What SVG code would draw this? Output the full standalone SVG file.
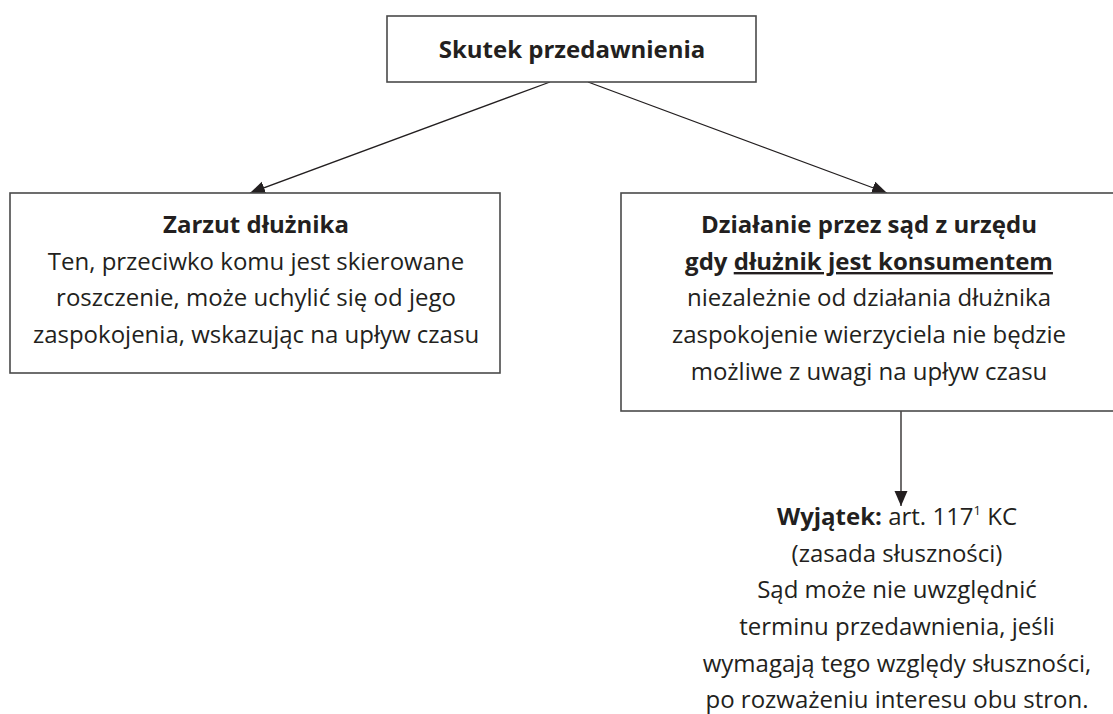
<svg xmlns="http://www.w3.org/2000/svg" width="1113" height="714" viewBox="0 0 1113 714">
  <style>
    .box { fill: #ffffff; stroke: #4a4a4a; stroke-width: 1.6; }
    .t { font-family: "Open Sans", "Noto Sans", "Liberation Sans", sans-serif; font-size: 24px; fill: #231f20; text-anchor: middle; }
    .b { font-weight: 700; }
    .conn { stroke: #231f20; stroke-width: 1.3; fill: none; }
  </style>
  <defs>
    <marker id="arr" markerUnits="userSpaceOnUse" markerWidth="16" markerHeight="14" refX="15" refY="6.5" orient="auto">
      <path d="M0,0 L15,6.5 L0,13 z" fill="#231f20"/>
    </marker>
  </defs>
  <rect width="1113" height="714" fill="#ffffff"/>

  <g id="connectors">
    <line class="conn" x1="550" y1="82" x2="250" y2="193" marker-end="url(#arr)"/>
    <line class="conn" x1="588" y1="82" x2="887" y2="193" marker-end="url(#arr)"/>
    <line class="conn" x1="901" y1="411" x2="901" y2="506" marker-end="url(#arr)"/>
  </g>

  <g id="node-top">
    <rect class="box" x="387" y="16" width="369" height="66"/>
    <text class="t b" x="572" y="58">Skutek przedawnienia</text>
  </g>

  <g id="node-left">
    <rect class="box" x="10" y="193" width="490" height="180"/>
    <text class="t b" x="256" y="233">Zarzut dłużnika</text>
    <text class="t" x="256" y="270">Ten, przeciwko komu jest skierowane</text>
    <text class="t" x="256" y="306">roszczenie, może uchylić się od jego</text>
    <text class="t" x="256" y="343">zaspokojenia, wskazując na upływ czasu</text>
  </g>

  <g id="node-right">
    <rect class="box" x="621" y="193" width="500" height="218"/>
    <text class="t b" x="869" y="233">Działanie przez sąd z urzędu</text>
    <text class="t b" x="869" y="270">gdy <tspan text-decoration="underline">dłużnik jest konsumentem</tspan></text>
    <text class="t" x="869" y="306">niezależnie od działania dłużnika</text>
    <text class="t" x="869" y="343">zaspokojenie wierzyciela nie będzie</text>
    <text class="t" x="869" y="380">możliwe z uwagi na upływ czasu</text>
  </g>

  <g id="node-exception">
    <text class="t" x="897" y="525"><tspan class="b">Wyjątek:</tspan> art. 117<tspan font-size="13" dy="-10">1</tspan><tspan dy="10"> KC</tspan></text>
    <text class="t" x="897" y="562">(zasada słuszności)</text>
    <text class="t" x="897" y="598">Sąd może nie uwzględnić</text>
    <text class="t" x="897" y="635">terminu przedawnienia, jeśli</text>
    <text class="t" x="897" y="672">wymagają tego względy słuszności,</text>
    <text class="t" x="897" y="708">po rozważeniu interesu obu stron.</text>
  </g>
</svg>
